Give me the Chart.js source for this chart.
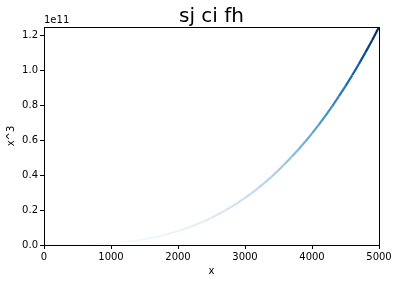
<!DOCTYPE html>
<html lang="en">
<head>
    <meta charset="UTF-8">
    <title>sj ci fh</title>
    <script src="https://cdn.jsdelivr.net/npm/chart.js@4.4.0/dist/chart.umd.min.js"></script>
    <style>
        html, body { margin: 0; padding: 0; background: #fff; }
    </style>
</head>
<body>
    <canvas id="myChart" width="398" height="283"></canvas>
    <script>
        // x values and x^3 (in units of 1e11)
        const xVals = [0, 100, 200, 300, 400, 500, 600, 700, 800, 900,
            1000, 1100, 1200, 1300, 1400, 1500, 1600, 1700, 1800, 1900,
            2000, 2100, 2200, 2300, 2400, 2500, 2600, 2700, 2800, 2900,
            3000, 3100, 3200, 3300, 3400, 3500, 3600, 3700, 3800, 3900,
            4000, 4100, 4200, 4300, 4400, 4500, 4600, 4700, 4800, 4900, 5000];
        const yVals = [0, 0.000, 0.000, 0.000, 0.001, 0.001, 0.002, 0.003, 0.005, 0.007,
            0.010, 0.013, 0.017, 0.022, 0.027, 0.034, 0.041, 0.049, 0.058, 0.069,
            0.080, 0.093, 0.106, 0.122, 0.138, 0.156, 0.176, 0.197, 0.220, 0.244,
            0.270, 0.298, 0.328, 0.359, 0.393, 0.429, 0.467, 0.507, 0.549, 0.593,
            0.640, 0.689, 0.741, 0.795, 0.852, 0.911, 0.973, 1.038, 1.106, 1.176, 1.250];
        const xTicks = [0, 1000, 2000, 3000, 4000, 5000];
        const yTicks = [0, 0.2, 0.4, 0.6, 0.8, 1.0, 1.2];

        // matplotlib "Blues" colormap stops
        const blues = [[247,251,255],[222,235,247],[198,219,239],[158,202,225],
            [107,174,214],[66,146,198],[33,113,181],[8,81,156],[8,48,107]];
        function bluesColor(t) {
            t = Math.max(0, Math.min(1, t)) * (blues.length - 1);
            const i = Math.min(Math.floor(t), blues.length - 2);
            const f = t - i;
            const a = blues[i], b = blues[i + 1];
            const c = a.map((v, k) => Math.round(v + (b[k] - v) * f));
            return 'rgb(' + c.join(',') + ')';
        }

        const FONT = 'DejaVu Sans';

        const framePlugin = {
            id: 'frame',
            afterDraw(chart) {
                const ctx = chart.ctx;
                const a = chart.chartArea;
                ctx.save();
                ctx.strokeStyle = '#000';
                ctx.lineWidth = 1;
                ctx.strokeRect(Math.round(a.left) + 0.5, Math.round(a.top) + 0.5,
                    Math.round(a.right - a.left), Math.round(a.bottom - a.top));
                ctx.fillStyle = '#000';
                ctx.font = '20px "' + FONT + '"';
                ctx.textAlign = 'center';
                ctx.textBaseline = 'alphabetic';
                ctx.fillText('sj ci fh', (a.left + a.right) / 2, 22);
                ctx.font = '10px "' + FONT + '"';
                ctx.textAlign = 'left';
                ctx.fillText('1e11', a.left, 23);
                ctx.restore();
            }
        };

        const ctx = document.getElementById('myChart').getContext('2d');
        const myChart = new Chart(ctx, {
            type: 'line',
            data: {
                datasets: [{
                    data: xVals.map((x, i) => ({ x: x, y: yVals[i] })),
                    borderWidth: 2.2,
                    pointRadius: 0,
                    fill: false,
                    tension: 0,
                    borderColor: bluesColor(1),
                    segment: {
                        borderColor: c => bluesColor(c.p1.parsed.y / 1.25)
                    }
                }]
            },
            options: {
                responsive: false,
                animation: false,
                layout: { padding: { left: 0, right: 19, top: 27, bottom: 0 } },
                plugins: {
                    legend: { display: false },
                    tooltip: { enabled: false }
                },
                scales: {
                    x: {
                        type: 'linear',
                        min: 0,
                        max: 5000,
                        afterBuildTicks: s => { s.ticks = xTicks.map(v => ({ value: v })); },
                        afterFit: s => { s.height = 38; },
                        grid: { drawOnChartArea: false, drawTicks: true, tickLength: 4, color: '#000' },
                        border: { display: false },
                        ticks: {
                            color: '#000',
                            padding: 2,
                            maxRotation: 0,
                            font: { family: FONT, size: 10 },
                            callback: v => String(v)
                        },
                        title: {
                            display: true,
                            text: 'x',
                            color: '#000',
                            padding: { top: 2, bottom: 6 },
                            font: { family: FONT, size: 10 }
                        }
                    },
                    y: {
                        type: 'linear',
                        min: 0,
                        max: 1.25,
                        afterBuildTicks: s => { s.ticks = yTicks.map(v => ({ value: v })); },
                        afterFit: s => { s.width = 44; },
                        grid: { drawOnChartArea: false, drawTicks: true, tickLength: 4, color: '#000' },
                        border: { display: false },
                        ticks: {
                            color: '#000',
                            padding: 2,
                            font: { family: FONT, size: 10 },
                            callback: v => v.toFixed(1)
                        },
                        title: {
                            display: true,
                            text: 'x^3',
                            color: '#000',
                            padding: { top: 5, bottom: 2 },
                            font: { family: FONT, size: 10 }
                        }
                    }
                }
            },
            plugins: [framePlugin]
        });
    </script>
</body>
</html>
